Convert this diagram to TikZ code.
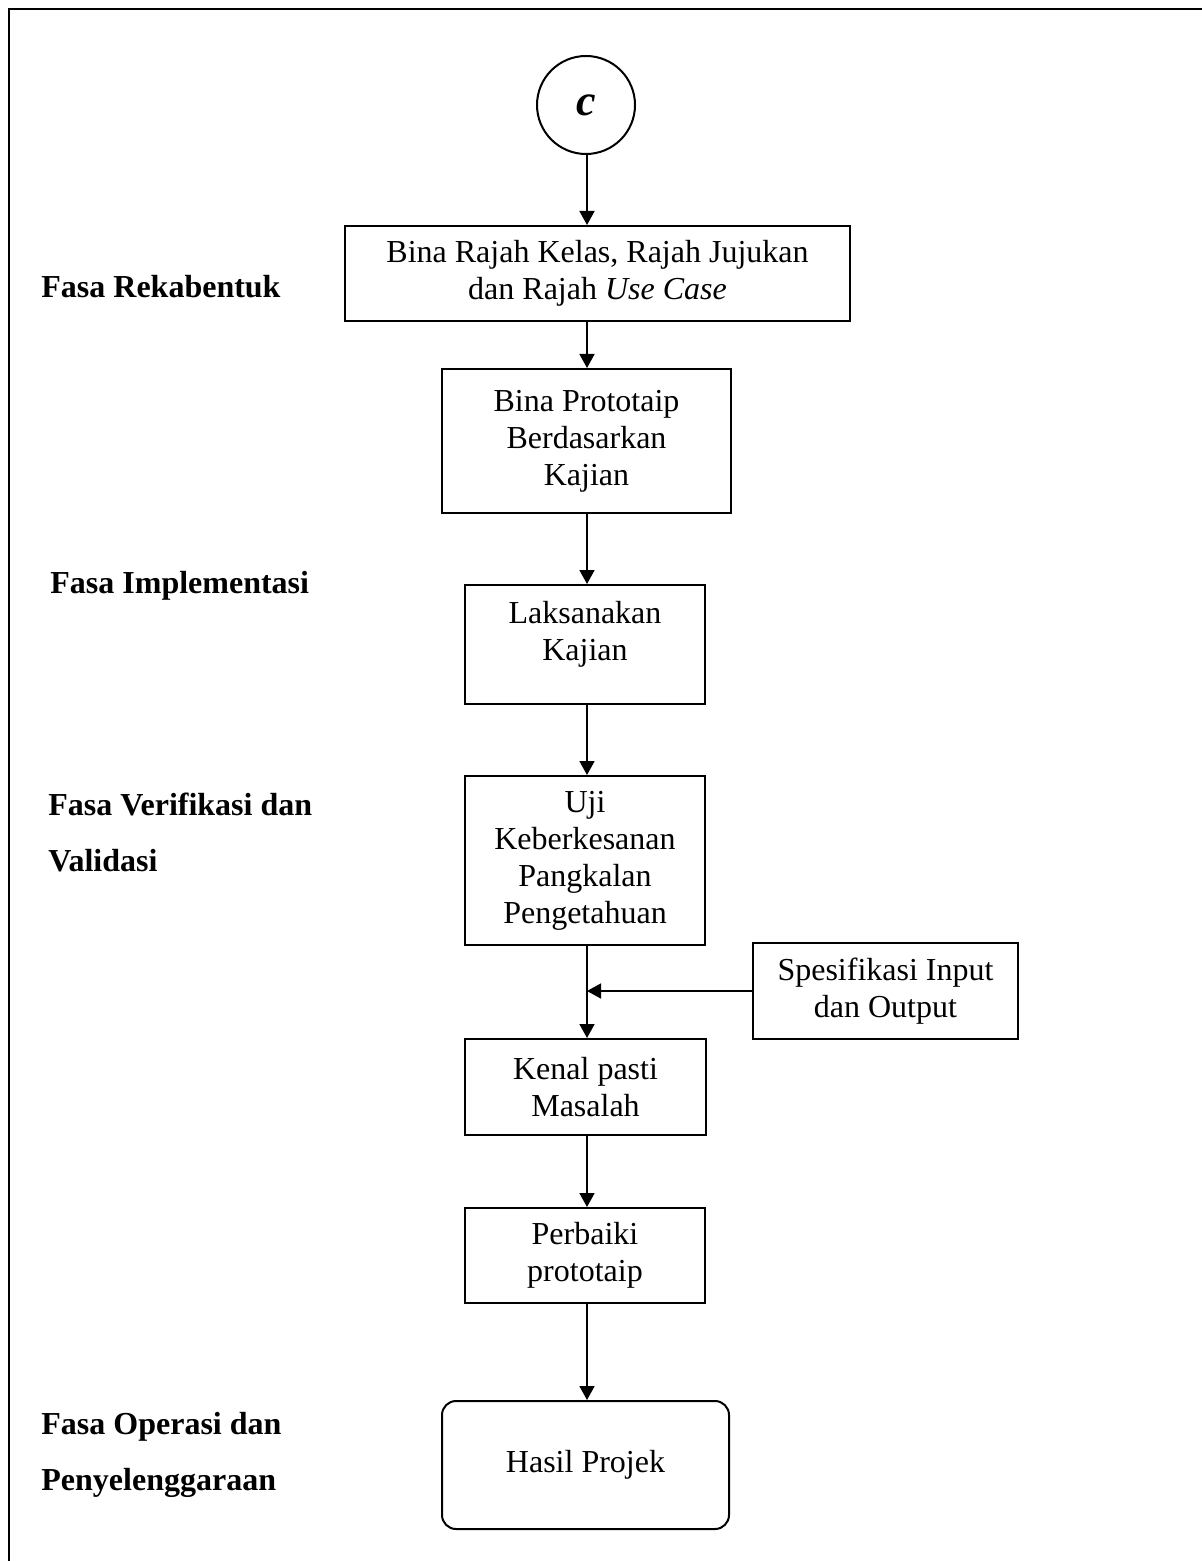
\documentclass[tikz,border=0pt]{standalone}
\usepackage{fontspec}
\setmainfont{Liberation Serif}
\usetikzlibrary{arrows.meta}
\begin{document}
\begin{tikzpicture}[x=0.5pt,y=-0.5pt,
  boxtext/.style={font=\fontsize{16}{18.5}\selectfont, align=center},
  stepbox/.style={draw, line width=1pt, boxtext, inner sep=0pt},
  phase/.style={font=\fontsize{16}{28}\selectfont\bfseries, align=left, inner sep=0pt, anchor=west},
  flow/.style={line width=0.85pt, -{Triangle[length=7pt,width=7.5pt]}}]
\useasboundingbox (0,0) rectangle (1202,1561);
% outer frame (open on the right and bottom)
\draw[line width=1.4pt] (9,1561) -- (9,9) -- (1202,9);

% phase labels
\node[phase] (p1) at (41,287) {Fasa Rekabentuk};
\node[phase] (p2) at (50,586) {Fasa Implementasi};
\node[phase] (p3) at (48,832) {Fasa Verifikasi dan\\Validasi};
\node[phase] (p4) at (41,1455) {Fasa Operasi dan\\Penyelenggaraan};

% connector start
\node[circle, draw, line width=1pt, minimum size=49pt, inner sep=0pt,
      font=\fontsize{22}{26}\selectfont\bfseries\itshape] (start) at (586,105) {c};
\coordinate (spine) at (587,0);

% process boxes
\node[stepbox, minimum width=252.5pt, minimum height=47.5pt] (b1) at (597.5,273.5)
  {Bina Rajah Kelas, Rajah Jujukan\\dan Rajah \textit{Use Case}};
\node[stepbox, minimum width=144.5pt, minimum height=72pt] (b2) at (586.5,441)
  {Bina Prototaip\\Berdasarkan\\Kajian};
\node[stepbox, minimum width=120pt, minimum height=59.5pt] (b3) at (585,644.5) {};
\node[boxtext, inner sep=0pt] (b3text) at (585,634) {Laksanakan\\Kajian};
\node[stepbox, minimum width=120pt, minimum height=84.5pt] (b4) at (585,860.5)
  {Uji\\Keberkesanan\\Pangkalan\\Pengetahuan};
\node[stepbox, minimum width=132.5pt, minimum height=48pt] (b6) at (885.5,991)
  {Spesifikasi Input\\dan Output};
\node[stepbox, minimum width=120.5pt, minimum height=48pt] (b5) at (585.5,1087)
  {Kenal pasti\\Masalah};
\node[stepbox, minimum width=120pt, minimum height=47.5pt] (b7) at (585,1255.5)
  {Perbaiki\\prototaip};
\node[stepbox, rounded corners=7pt, minimum width=143.5pt, minimum height=64pt] (b8) at (585.5,1465)
  {Hasil Projek};

% connectors
\draw[flow] (start.south -| spine) -- (b1.north -| spine);
\draw[flow] (b1.south -| spine) -- (b2.north -| spine);
\draw[flow] (b2.south -| spine) -- (b3.north -| spine);
\draw[flow] (b3.south -| spine) -- (b4.north -| spine);
\draw[flow] (b4.south -| spine) -- (b5.north -| spine);
\draw[flow] (b6.west) -- (b6.west -| spine);
\draw[flow] (b5.south -| spine) -- (b7.north -| spine);
\draw[flow] (b7.south -| spine) -- (b8.north -| spine);
\end{tikzpicture}
\end{document}
